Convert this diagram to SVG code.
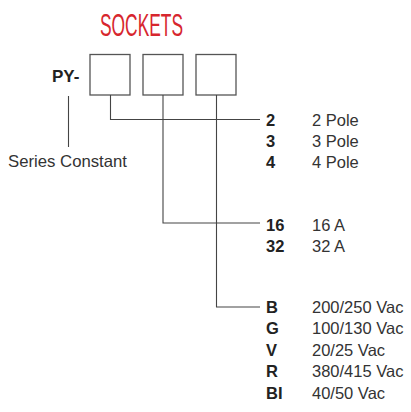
<svg xmlns="http://www.w3.org/2000/svg" width="411" height="412" viewBox="0 0 411 412">
<style>
.box{fill:#fff;stroke:#555;stroke-width:1.3}
.ln{fill:none;stroke:#444;stroke-width:1.1}
.t{font-family:"Liberation Sans",Arial,sans-serif;font-size:16.5px;fill:#333}
.b{font-family:"Liberation Sans",Arial,sans-serif;font-size:16.5px;font-weight:bold;fill:#222}
.title{font-family:"Liberation Sans",Arial,sans-serif;font-size:31px;fill:#d7262e}
</style>
<rect width="411" height="412" fill="#fff"/>
<text class="title" x="100" y="36" textLength="83" lengthAdjust="spacingAndGlyphs">SOCKETS</text>
<g id="prefix"><text class="b" x="52" y="82" style="font-size:17px">PY-</text></g>
<g id="series"><text class="t" x="8" y="167" textLength="119" lengthAdjust="spacingAndGlyphs">Series Constant</text></g>
<g id="box1"><rect class="box" x="90" y="54.5" width="40" height="40.5"/></g>
<g id="box2"><rect class="box" x="143" y="54.5" width="40" height="40.5"/></g>
<g id="box3"><rect class="box" x="196" y="54.5" width="40" height="40.5"/></g>
<g id="connectors">
<path class="ln" d="M68.5 96V147"/>
<path class="ln" d="M110.5 95V119.5H260"/>
<path class="ln" d="M163 95V223H260"/>
<path class="ln" d="M216.5 95V307H260"/>
</g>
<g id="poles">
<text class="b" x="266" y="126">2</text><text class="t" x="312" y="126">2 Pole</text>
<text class="b" x="266" y="147">3</text><text class="t" x="312" y="147">3 Pole</text>
<text class="b" x="266" y="168">4</text><text class="t" x="312" y="168">4 Pole</text>
</g>
<g id="current">
<text class="b" x="266" y="230.5">16</text><text class="t" x="312" y="230.5">16 A</text>
<text class="b" x="266" y="251.5">32</text><text class="t" x="312" y="251.5">32 A</text>
</g>
<g id="voltage">
<text class="b" x="266" y="312.5">B</text><text class="t" x="312" y="312.5">200/250 Vac</text>
<text class="b" x="266" y="334">G</text><text class="t" x="312" y="334">100/130 Vac</text>
<text class="b" x="266" y="355.5">V</text><text class="t" x="312" y="355.5">20/25 Vac</text>
<text class="b" x="266" y="377">R</text><text class="t" x="312" y="377">380/415 Vac</text>
<text class="b" x="266" y="398.5">BI</text><text class="t" x="312" y="398.5">40/50 Vac</text>
</g>
</svg>
